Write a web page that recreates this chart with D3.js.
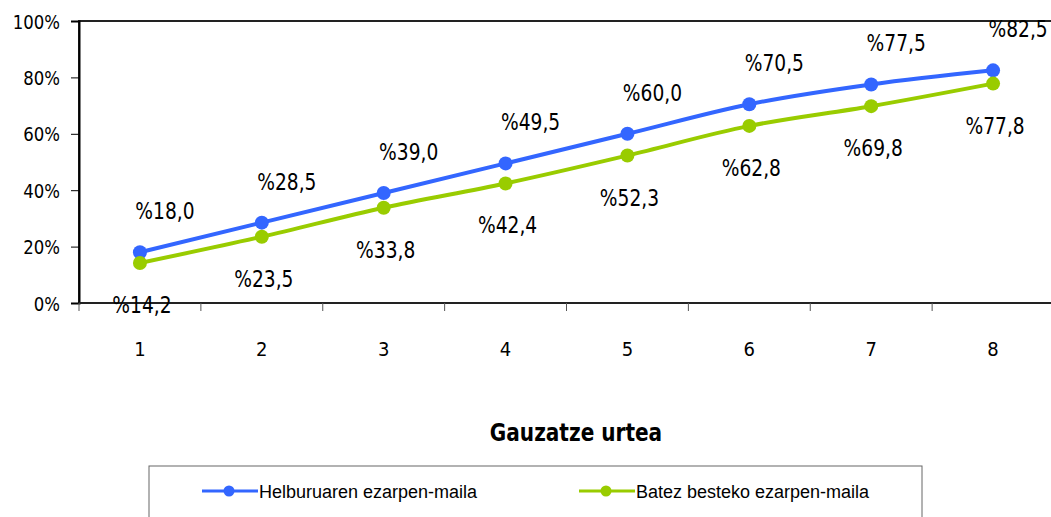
<!DOCTYPE html>
<html lang="en">
<head>
    <meta charset="utf-8">
    <title>Gauzatze urtea</title>
    <script src="https://d3js.org/d3.v7.min.js"></script>
    <style>
        body { margin: 0; background: #fff; }
        svg text { font-family: "DejaVu Sans Condensed", "DejaVu Sans", sans-serif; fill: #000; }
        svg .legend text { font-family: "Liberation Sans", Arial, sans-serif; }
    </style>
</head>
<body>
    <svg id="chart" width="1051" height="517"></svg>
    <script>
        const years = ['1', '2', '3', '4', '5', '6', '7', '8'];
        const helburua = [18.0, 28.5, 39.0, 49.5, 60.0, 70.5, 77.5, 82.5];
        const batezBesteko = [14.2, 23.5, 33.8, 42.4, 52.3, 62.8, 69.8, 77.8];
        const yTicks = [0, 20, 40, 60, 80, 100];
        const seriesNames = ['Helburuaren ezarpen-maila', 'Batez besteko ezarpen-maila'];
        const seriesColors = ['#3366ff', '#99cc00'];

        const svg = d3.select('#chart');
        const fmt = v => '%' + v.toFixed(1).replace('.', ',');

        let x = d3.scaleBand().domain(years).range([79, 1054]);
        let y = d3.scaleLinear().domain([0, 100]).range([303, 21]);
        const cx = d => x(d) + x.bandwidth() / 2;

        // the reference font is tall and narrow, so squeeze text horizontally
        function squeeze(sel, fx, fy, k) {
            sel.attr('x', 0).attr('y', 0)
                .attr('transform', (d, i) => `translate(${fx(d, i)},${fy(d, i)}) scale(${k},1)`);
        }

        // plot area border
        svg.append('rect')
            .attr('x', x.range()[0]).attr('y', y(100))
            .attr('width', x.range()[1] - x.range()[0]).attr('height', y(0) - y(100))
            .attr('fill', 'none').attr('stroke', '#222').attr('stroke-width', 2);

        // y axis
        let yAxis = svg.append('g')
            .attr('transform', `translate(${x.range()[0]},0)`)
            .call(d3.axisLeft(y).tickValues(yTicks).tickFormat(d => d + '%')
                .tickSize(8).tickPadding(11));
        yAxis.select('.domain').attr('stroke', '#000').attr('stroke-width', 2);
        yAxis.selectAll('.tick line').attr('stroke', '#000');
        yAxis.selectAll('text').attr('font-size', 20).attr('font-family', null)
            .attr('x', null).attr('dy', null)
            .attr('transform', 'translate(-19,7) scale(0.92,1)');

        // x axis: ticks between categories, labels centred
        let xAxis = svg.append('g').attr('transform', `translate(0,${y(0)})`);
        xAxis.append('line')
            .attr('x1', x.range()[0]).attr('x2', x.range()[1])
            .attr('stroke', '#222').attr('stroke-width', 2);
        xAxis.selectAll('.xtick')
            .data(years)
            .enter()
            .append('line')
            .attr('x1', d => x(d)).attr('x2', d => x(d))
            .attr('y1', 0).attr('y2', 8)
            .attr('stroke', '#555');
        xAxis.selectAll('.xlabel')
            .data(years)
            .enter()
            .append('text')
            .attr('x', d => cx(d))
            .attr('y', 53)
            .attr('text-anchor', 'middle')
            .attr('font-size', 20)
            .text(d => d);

        svg.append('text')
            .attr('text-anchor', 'middle')
            .attr('font-size', 24)
            .attr('font-weight', 'bold')
            .attr('transform', 'translate(576,441) scale(0.93,1)')
            .text('Gauzatze urtea');

        // series
        let line = d3.line()
            .x((d, i) => cx(years[i]))
            .y(d => y(d))
            .curve(d3.curveMonotoneX);

        [helburua, batezBesteko].forEach((values, s) => {
            svg.append('path')
                .datum(values)
                .attr('fill', 'none')
                .attr('stroke', seriesColors[s])
                .attr('stroke-width', 4)
                .attr('d', line);

            svg.append('g')
                .selectAll('circle')
                .data(values)
                .enter()
                .append('circle')
                .attr('cx', (d, i) => cx(years[i]))
                .attr('cy', d => y(d))
                .attr('r', 7)
                .attr('fill', seriesColors[s]);
        });

        // data labels: blue above-right, green below
        svg.append('g')
            .selectAll('text')
            .data(helburua)
            .enter()
            .append('text')
            .attr('text-anchor', 'middle')
            .attr('font-size', 23)
            .text(fmt)
            .call(squeeze, (d, i) => cx(years[i]) + 25, d => y(d) - 41 + 8, 0.9);

        svg.append('g')
            .selectAll('text')
            .data(batezBesteko)
            .enter()
            .append('text')
            .attr('text-anchor', 'middle')
            .attr('font-size', 23)
            .text(fmt)
            .call(squeeze, (d, i) => cx(years[i]) + 2, d => y(d) + 42 + 8, 0.9);

        // legend
        let legend = svg.append('g').attr('class', 'legend');
        legend.append('rect')
            .attr('x', 149).attr('y', 466)
            .attr('width', 773).attr('height', 70)
            .attr('fill', '#fff').attr('stroke', '#666');

        const legendX = [202, 579];
        seriesNames.forEach((name, s) => {
            let g = legend.append('g').attr('transform', `translate(${legendX[s]},491)`);
            g.append('line')
                .attr('x1', 0).attr('x2', 56)
                .attr('stroke', seriesColors[s]).attr('stroke-width', 3);
            g.append('circle')
                .attr('cx', 27).attr('r', 5.5)
                .attr('fill', seriesColors[s]);
            g.append('text')
                .attr('x', 57).attr('y', 6.5)
                .attr('font-size', 18)
                .text(name);
        });
    </script>
</body>
</html>
